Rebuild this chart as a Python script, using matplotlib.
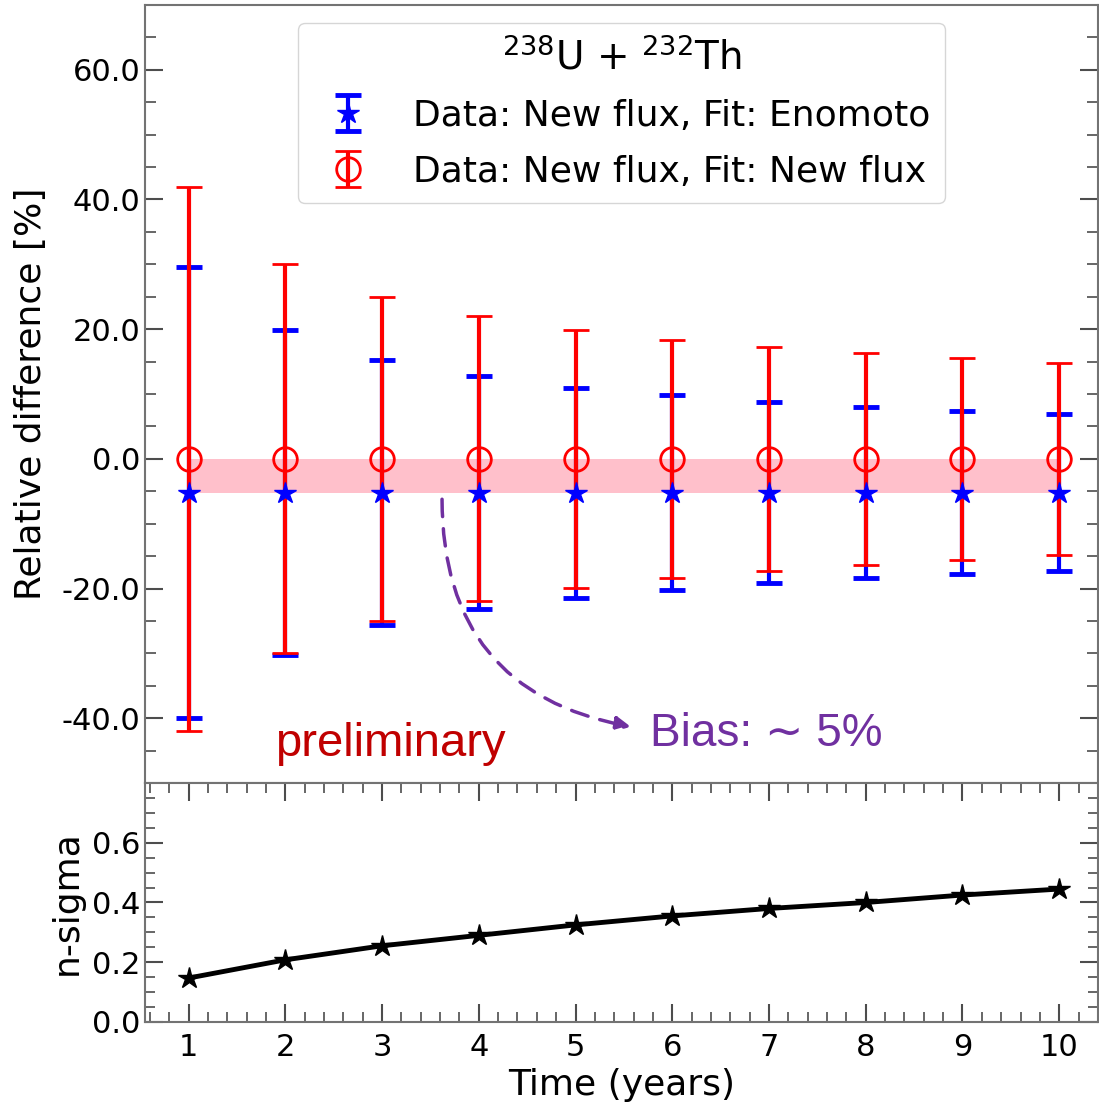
import matplotlib
matplotlib.use("Agg")
import matplotlib.pyplot as plt
import numpy as np
from matplotlib.ticker import MultipleLocator, FormatStrFormatter

plt.rcParams['axes.unicode_minus'] = False
plt.rcParams['font.family'] = ['DejaVu Sans']

# data
years = [1, 2, 3, 4, 5, 6, 7, 8, 9, 10]
enomoto_val = [-5.2, -5.2, -5.2, -5.2, -5.2, -5.2, -5.2, -5.2, -5.2, -5.2]
enomoto_err = [34.8, 25.0, 20.5, 18.0, 16.2, 15.0, 14.0, 13.25, 12.55, 12.1]
newflux_val = [0, 0, 0, 0, 0, 0, 0, 0, 0, 0]
newflux_err = [42.0, 30.0, 25.0, 22.0, 19.9, 18.4, 17.3, 16.4, 15.6, 14.8]
nsigma = [0.147, 0.208, 0.255, 0.29, 0.325, 0.355, 0.38, 0.40, 0.425, 0.445]

fig = plt.figure(figsize=(10.99, 11.06), dpi=100)
ax = fig.add_axes([0.132, 0.292, 0.867, 0.7035])
ax2 = fig.add_axes([0.132, 0.076, 0.867, 0.216])

# bias band
ax.fill_between(years, newflux_val, enomoto_val, color='pink', lw=0, zorder=1)

eb1 = ax.errorbar(years, enomoto_val, yerr=enomoto_err, fmt='*', color='blue',
                  ms=16, elinewidth=3, capsize=9.5, capthick=3.5, zorder=2,
                  label='Data: New flux, Fit: Enomoto')
eb1[0].set_zorder(5)
eb2 = ax.errorbar(years, newflux_val, yerr=newflux_err, fmt='o', color='red',
                  mfc='none', mec='red', ms=17, mew=2, elinewidth=3,
                  capsize=9.5, capthick=2.2, zorder=3,
                  label='Data: New flux, Fit: New flux')

ax.set_xlim(0.55, 10.40)
ax.set_ylim(-50, 70)
ax.set_yticks([-40, -20, 0, 20, 40, 60])
ax.yaxis.set_minor_locator(MultipleLocator(5))
ax.yaxis.set_major_formatter(FormatStrFormatter('%.1f'))
ax.tick_params(axis='x', which='both', bottom=False, top=False, labelbottom=False)
ax.tick_params(axis='y', which='both', direction='in', left=True, right=True,
               labelsize=22, color='0.3')
ax.tick_params(axis='y', which='major', length=13, width=1.5)
ax.tick_params(axis='y', which='minor', length=8, width=1.2)
ax.set_ylabel('Relative difference [%]', fontsize=26, labelpad=10)

leg = ax.legend(loc='upper center', fontsize=26, numpoints=1,
                title=r'$^{238}$U + $^{232}$Th', title_fontsize=28,
                borderaxespad=0.5, labelspacing=0.6)

ax.text(1.89, -44.0, 'preliminary', color='#C00000', fontsize=34,
        family=['Liberation Sans', 'DejaVu Sans'], va='center')
ax.text(5.77, -42.5, 'Bias: \u223c 5%', color='#7030A0', fontsize=33,
        family=['Liberation Sans', 'DejaVu Sans'], va='center')
ax.annotate('', xy=(5.6, -41.4), xytext=(3.62, -5.8),
            arrowprops=dict(arrowstyle='-|>', color='#7030A0', lw=2.5,
                            linestyle=(0, (5, 3.5)), mutation_scale=22,
                            connectionstyle='arc3,rad=0.42'))

# n-sigma panel
ax2.plot(years, nsigma, color='black', lw=3.5, marker='*', ms=16)
ax2.set_xlim(0.55, 10.40)
ax2.set_ylim(0, 0.8)
ax2.set_xticks(years)
ax2.set_yticks([0.0, 0.2, 0.4, 0.6])
ax2.xaxis.set_minor_locator(MultipleLocator(0.2))
ax2.yaxis.set_minor_locator(MultipleLocator(0.05))
ax2.yaxis.set_major_formatter(FormatStrFormatter('%.1f'))
ax2.tick_params(which='both', direction='in', top=True, right=True,
                labelsize=22, color='0.3')
ax2.tick_params(which='major', length=13, width=1.5)
ax2.tick_params(which='minor', length=7, width=1.2)
ax2.tick_params(axis='x', labelsize=22, pad=8)
ax2.set_xlabel('Time (years)', fontsize=26, labelpad=4)
ax2.set_ylabel('n-sigma', fontsize=26, labelpad=6)

for a in (ax, ax2):
    for s in a.spines.values():
        s.set_color('0.45')
        s.set_linewidth(1.5)

fig.savefig('out.png', dpi=100)
